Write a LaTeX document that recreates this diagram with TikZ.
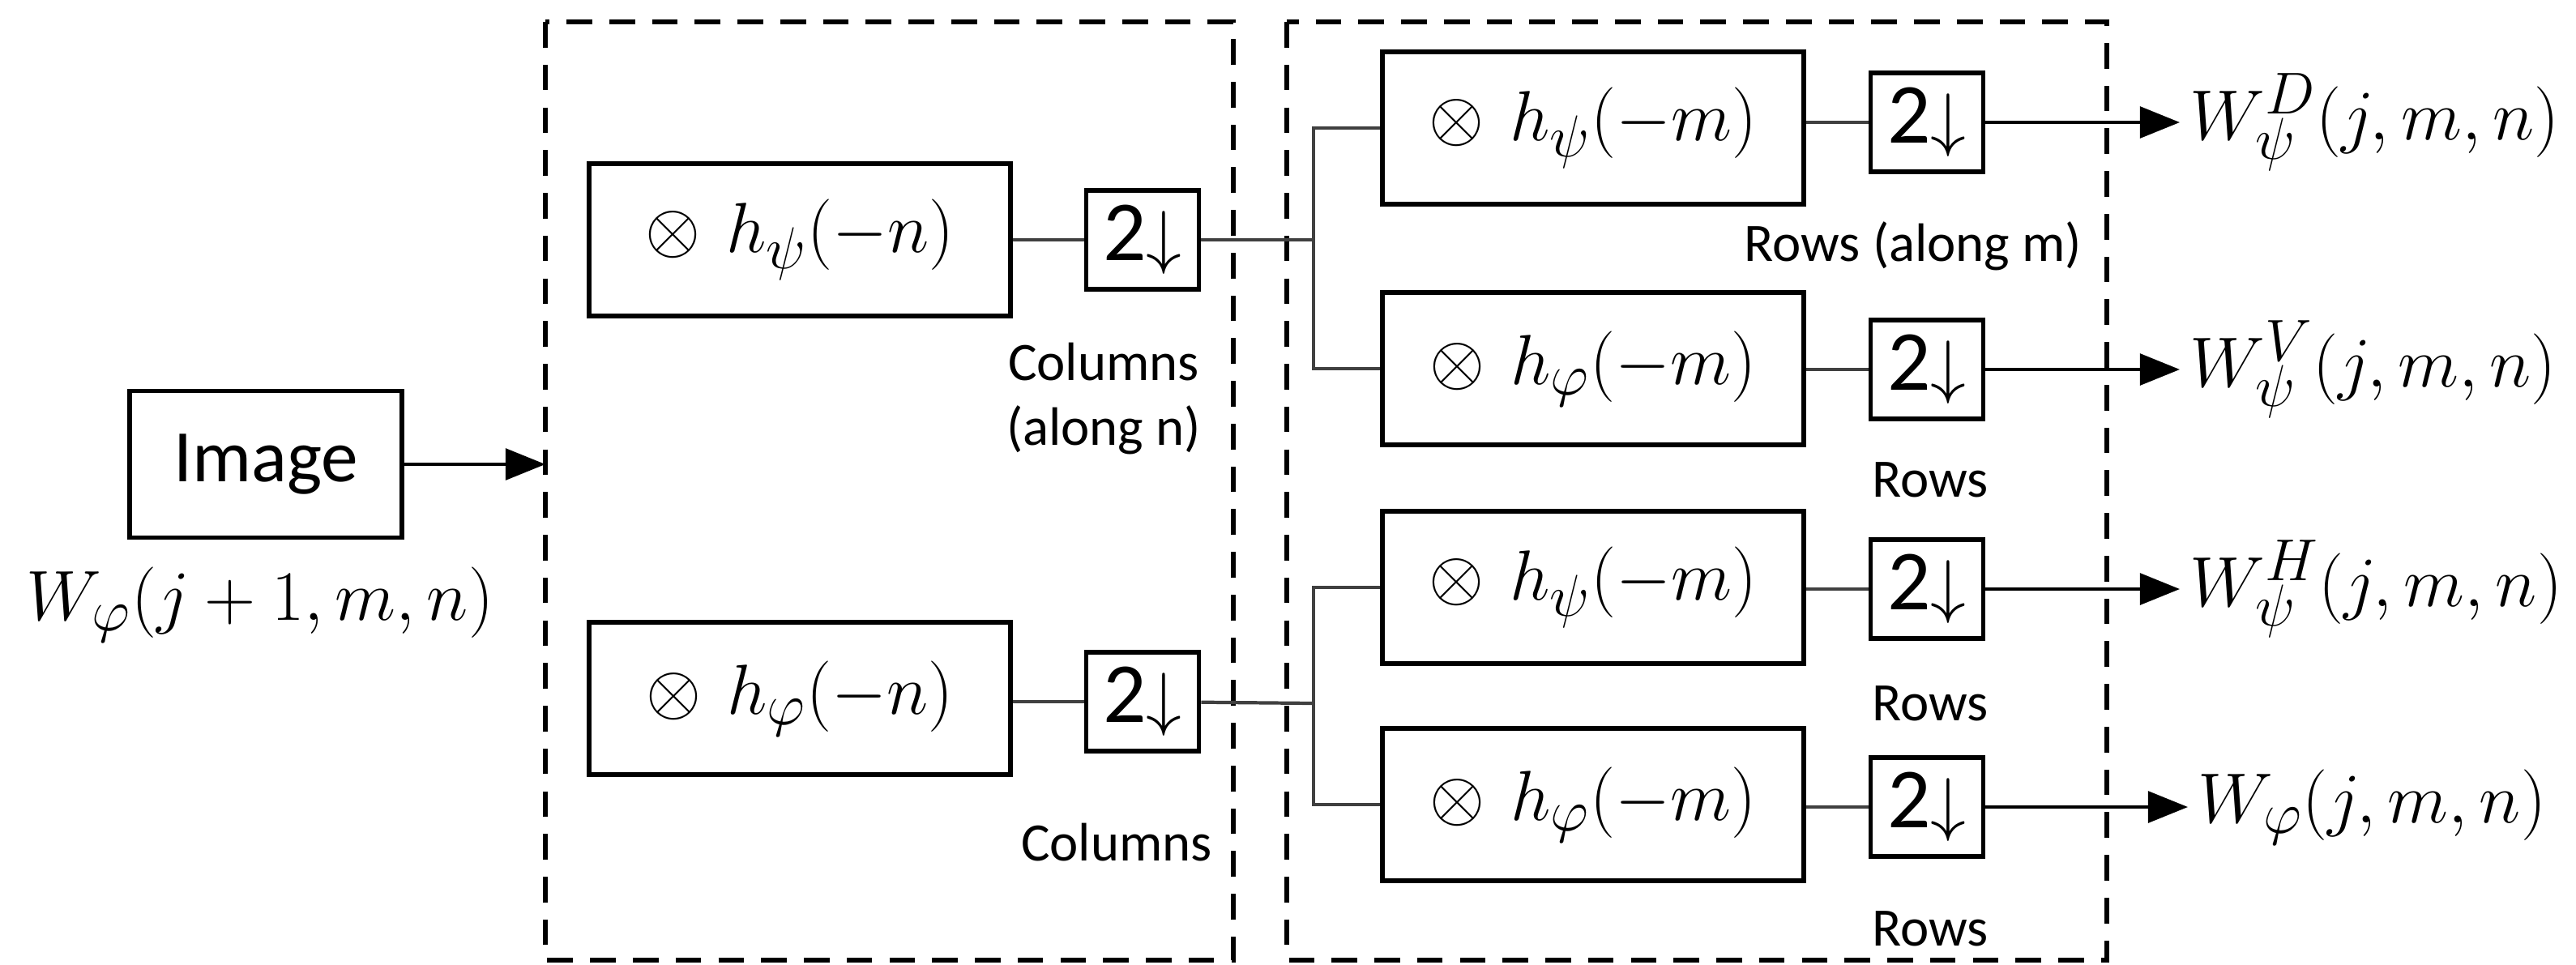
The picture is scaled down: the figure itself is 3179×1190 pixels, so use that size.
\documentclass[tikz,border=0pt]{standalone}
\usepackage{fontspec}
\newfontfamily\carl{Carlito}
\usetikzlibrary{arrows.meta}
\begin{document}
\begin{tikzpicture}[x=0.01cm,y=-0.01cm,
  box/.style={draw,line width=1.6pt,inner sep=0pt},
  mth/.style={font=\fontsize{30}{36}\selectfont},
  lbl/.style={font=\carl\fontsize{19}{23}\selectfont,align=center},
  dbox/.style={draw,line width=1.5pt,dash pattern=on 9pt off 6pt},
  ln/.style={draw,line width=1.2pt,black!75},
  arr/.style={ln,-{Triangle[length=14pt,width=11pt]},black},
  filt/.style={box,mth,minimum width=5.2cm,minimum height=1.88cm},
  ds/.style={box,minimum width=1.39cm,minimum height=1.22cm,font=\carl\fontsize{30}{36}\selectfont}]
\useasboundingbox (0,0) rectangle (3179,1190);
\draw[dbox] (673,27) rectangle (1522,1185);
\draw[dbox] (1588,27) rectangle (2600,1185);
\node[box,minimum width=3.36cm,minimum height=1.81cm,font=\carl\fontsize{26}{30}\selectfont] (img) at (328,573) {Image};
\node[mth] (win) at (321,746) {$W_\varphi(j+1,m,n)$};
\coordinate (in) at (673,573);
\draw[arr] (img) -- (in);
% column filters
\node[filt] (c1) at (987,296) {$\otimes\ h_\psi(-n)$};
\node[filt] (c2) at (987,862) {$\otimes\ h_\varphi(-n)$};
\node[ds] (d1) at (1410,296) {2$\downarrow$};
\node[ds] (d2) at (1410,866) {2$\downarrow$};
\node[lbl] at (1362,492) {Columns\\(along n)};
\node[lbl] at (1378,1040) {Columns};
\draw[ln] (c1) -- (d1);
\draw[ln] (c2.east |- d2) -- (d2);
\coordinate (j1) at (1621,296);
\coordinate (j2) at (1621,868);
\draw[ln] (d1) -- (j1);
\draw[ln] (d2) -- (j2);
% row filters
\node[filt] (r1) at (1966,158) {$\otimes\ h_\psi(-m)$};
\node[filt] (r2) at (1966,455) {$\otimes\ h_\varphi(-m)$};
\node[filt] (r3) at (1966,725) {$\otimes\ h_\psi(-m)$};
\node[filt] (r4) at (1966,993) {$\otimes\ h_\varphi(-m)$};
\node[ds] (e1) at (2378,151) {2$\downarrow$};
\node[ds] (e2) at (2378,456) {2$\downarrow$};
\node[ds] (e3) at (2378,727) {2$\downarrow$};
\node[ds] (e4) at (2378,996) {2$\downarrow$};
\node[mth,anchor=west] (o1) at (2690,151) {$W^D_\psi(j,m,n)$};
\node[mth,anchor=west] (o2) at (2690,456) {$W^V_\psi(j,m,n)$};
\node[mth,anchor=west] (o3) at (2690,727) {$W^H_\psi(j,m,n)$};
\node[mth,anchor=west] (o4) at (2700,996) {$W_\varphi(j,m,n)$};
\foreach \i in {1,2,3,4}{
  \draw[ln] (r\i.east |- e\i) -- (e\i);
  \draw[arr] (e\i) -- (o\i);
}
\draw[ln] (j1) |- (r1.west);
\draw[ln] (j1) |- (r2.west);
\draw[ln] (j2) |- (r3.west);
\draw[ln] (j2) |- (r4.west);
\node[lbl] at (2361,304) {Rows (along m)};
\node[lbl] at (2382,592) {Rows};
\node[lbl] at (2382,868) {Rows};
\node[lbl] at (2382,1146) {Rows};
\end{tikzpicture}
\end{document}
